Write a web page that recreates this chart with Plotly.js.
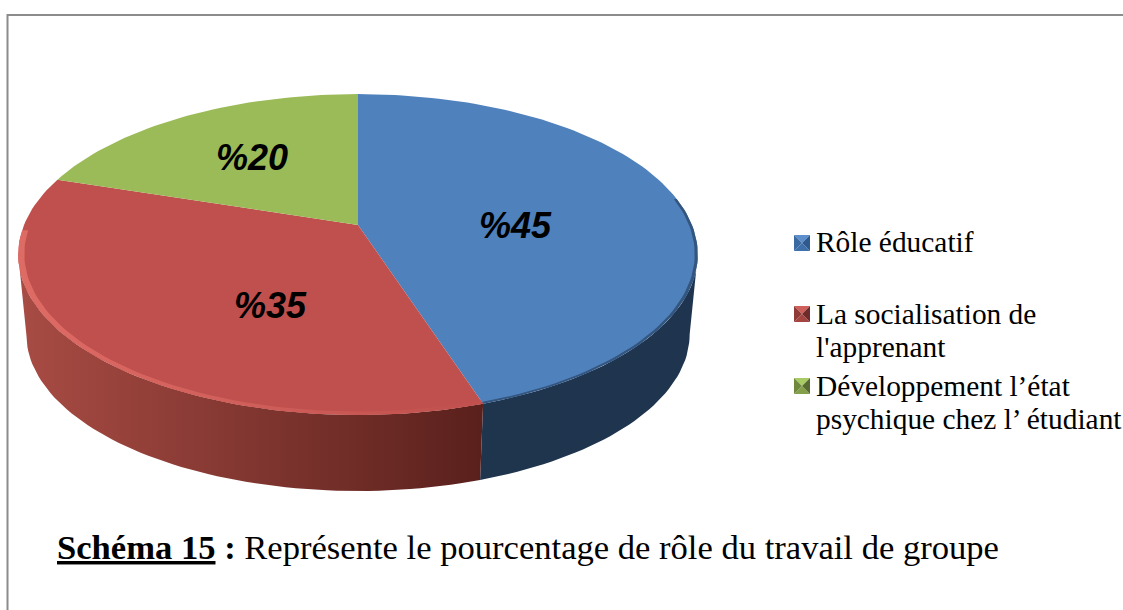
<!DOCTYPE html>
<html><head><meta charset="utf-8">
<script src="https://cdn.plot.ly/plotly-3.0.1.min.js"></script>
<style>html,body{margin:0;padding:0;background:#fff}#c{width:1123px;height:610px}</style>
</head><body><div id="c"></div>
<script>
const categories = ["Rôle éducatif", "La socialisation de<br>l'apprenant", "Développement l’état<br>psychique chez l’ étudiant"];
const values = [45, 35, 20];
const valueLabels = ["%45", "%35", "%20"];
const topColors = ["#4F81BD", "#C0504D", "#9BBB59"];
const wallColors = [["#1F344E", "#1F344D"], ["#5A201C", "#A84C44"], ["#6B8238", "#6B8238"]];
const captionText = "<b><u>Schéma 15</u> :</b> Représente le pourcentage de rôle du travail de groupe";

// perspective projection of the pie disc onto the page
const CX = 358, CY = 225, B = 334, A = 155, P = 0.184;
const WALL_DY = 80.6, WALL_S = 0.976;
function proj(deg, s, dy) {
  const t = deg * Math.PI / 180, u = Math.sin(t), v = Math.cos(t), w = 1 + P * v;
  return [CX + s * B * u / w, CY + dy - s * A * v / w];
}
function arc(a0, a1, s, dy) {
  const n = Math.max(2, Math.ceil(Math.abs(a1 - a0) / 1.5)), pts = [];
  for (let i = 0; i <= n; i++) pts.push(proj(a0 + (a1 - a0) * i / n, s, dy));
  return pts;
}
const VIS0 = 100.6, VIS1 = 259.4;
const total = values.reduce((a, b) => a + b, 0);
let acc = 0;
const spans = values.map(v => { const s = [acc * 360 / total, (acc + v) * 360 / total]; acc += v; return s; });

function poly(pts, color, name, grad) {
  const tr = { type: "scatter", mode: "lines", x: pts.map(p => p[0]), y: pts.map(p => p[1]), fill: "toself",
    line: { width: 0, color: color }, hoverinfo: "skip", showlegend: false, name: name, fillcolor: color };
  if (grad) { tr.fillgradient = { type: "horizontal", colorscale: [[0, grad[1]], [1, grad[0]]] }; }
  return tr;
}
const traces = [];
// side walls
spans.forEach((s, i) => {
  const a0 = Math.max(s[0], VIS0), a1 = Math.min(s[1], VIS1);
  if (a1 <= a0) return;
  const pts = arc(a0, a1, 1, 0).concat(arc(a1, a0, WALL_S, WALL_DY));
  pts.push(pts[0]);
  traces.push(poly(pts, wallColors[i][0], categories[i] + " wall", wallColors[i]));
});
// top faces
spans.forEach((s, i) => {
  const pts = [[CX, CY]].concat(arc(s[0], s[1], 1, 0));
  pts.push([CX, CY]);
  traces.push(poly(pts, topColors[i], categories[i]));
});
// rim bevels
const rimSpans = [[80, spans[0][1]], [spans[1][0], 268]];
const rimWidths = [0.991, 0.982];
const rimGrads = [["#33557E", "#33557E"], ["#C0504D", "#DF6B65"]];
rimSpans.forEach((s, i) => {
  const pts = arc(s[0], s[1], 1, 0).concat(arc(s[1], s[0], rimWidths[i], 0));
  pts.push(pts[0]);
  traces.push(poly(pts, rimGrads[i][0], "rim " + i, rimGrads[i]));
});

// legend swatches as pyramids
const swatchY = [243, 314, 386];
const swatchFaces = [
  ["#5C8FCB", "#3F70AA", "#3B6AA3", "#2F5A8F"],
  ["#CF5F5B", "#A54542", "#8E3A37", "#6F2B29"],
  ["#A9CB65", "#84A04B", "#6F8A3D", "#566B2F"]
];
const shapes = [{ type: "path", xref: "x", yref: "y", path: "M7.5,610 L7.5,15 L1123,15", line: { color: "#8C8C8C", width: 2 } }];
swatchY.forEach((y, i) => {
  const h = 8, x = 802, f = swatchFaces[i];
  const tri = [
    [[x - h, y - h], [x + h, y - h], [x, y], f[0]],
    [[x - h, y + h], [x + h, y + h], [x, y], f[1]],
    [[x - h, y - h], [x - h, y + h], [x, y], f[2]],
    [[x + h, y - h], [x + h, y + h], [x, y], f[3]]
  ];
  tri.forEach(t => shapes.push({ type: "path", xref: "x", yref: "y",
    path: `M${t[0][0]},${t[0][1]} L${t[1][0]},${t[1][1]} L${t[2][0]},${t[2][1]} Z`, fillcolor: t[3], line: { width: 0 } }));
});

const serif = "Liberation Serif";
const valuePos = [[515, 225], [270, 305], [252, 157]];
const legendLineY = [[242], [314, 347], [386, 419]];
const annotations = [];
valueLabels.forEach((t, i) => annotations.push({ x: valuePos[i][0], y: valuePos[i][1], xref: "x", yref: "y", text: "<b><i>" + t + "</i></b>",
  showarrow: false, xanchor: "center", yanchor: "middle", font: { family: "Liberation Sans", size: 36, color: "#000" } }));
categories.forEach((t, i) => t.split("<br>").forEach((line, j) => annotations.push({ x: 814, y: legendLineY[i][j], xref: "x", yref: "y", text: line, align: "left",
  showarrow: false, xanchor: "left", yanchor: "middle", font: { family: serif, size: 29.4, color: "#000" } })));
annotations.push({ x: 55, y: 547, xref: "x", yref: "y", text: captionText, showarrow: false, xanchor: "left", yanchor: "middle",
  font: { family: serif, size: 34.6, color: "#000" } });

Plotly.newPlot("c", traces, {
  width: 1123, height: 610, margin: { l: 0, r: 0, t: 0, b: 0 }, paper_bgcolor: "#fff", plot_bgcolor: "#fff",
  xaxis: { range: [0, 1123], visible: false, fixedrange: true },
  yaxis: { range: [610, 0], visible: false, fixedrange: true },
  showlegend: false, shapes: shapes, annotations: annotations
}, { displayModeBar: false, staticPlot: true });
</script></body></html>
